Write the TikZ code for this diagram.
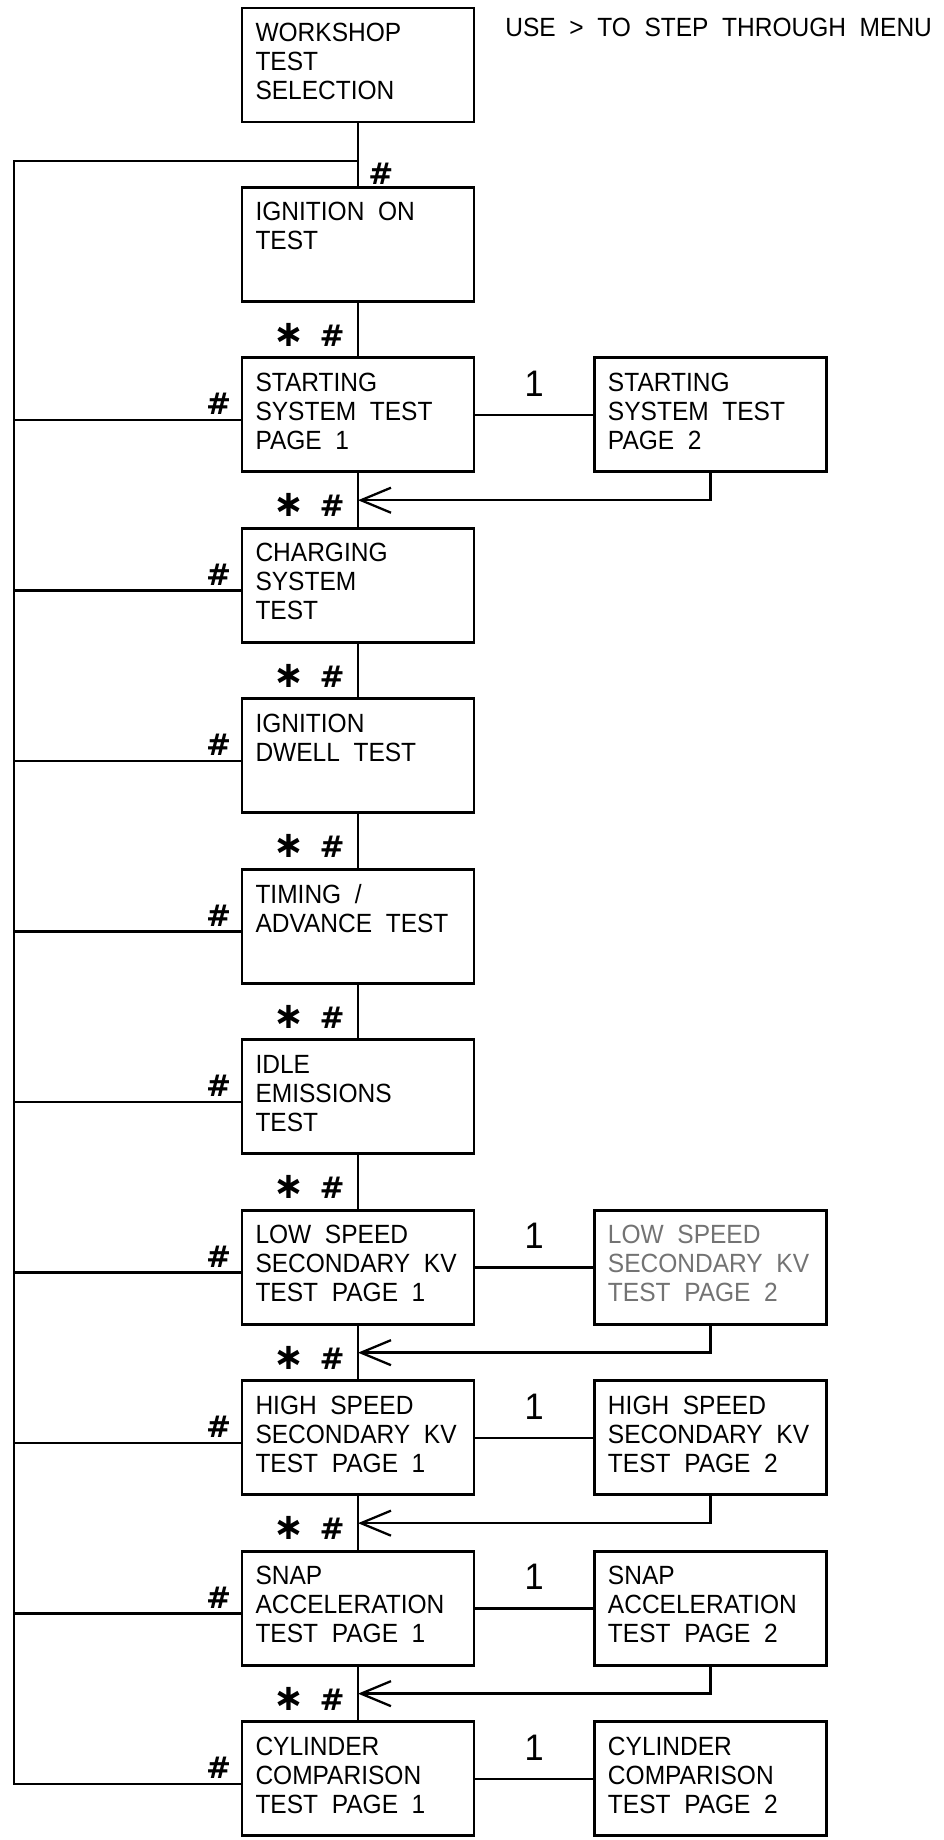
\documentclass[tikz,border=0pt]{standalone}
\usepackage{fontspec}
\setmainfont{Liberation Sans}[FakeStretch=0.93, WordSpace=2.0]
\newfontfamily\markfont{DejaVu Sans}
\usetikzlibrary{arrows.meta, positioning, calc}

\newcommand{\menutext}[1]{\parbox[t][1.88cm][t]{4.1cm}{\raggedright\vspace*{0.1cm}#1}}
\newcommand{\starkey}{{\fontsize{21}{21}\selectfont ∗}}

\begin{document}
\begin{tikzpicture}[
    node distance=1.07cm and 2.35cm,
    testbox/.style={draw, line width=1.7pt, inner xsep=0.27cm, inner ysep=0.2cm, font=\fontsize{15}{16.5}\selectfont},
    link/.style={line width=1.4pt},
    back/.style={line width=1.4pt, -{Straight Barb[length=0.6cm, width=0.5cm, line width=1.3pt]}},
    hashmark/.style={font=\markfont\bfseries\fontsize{17}{17}\selectfont, inner sep=0pt},
    pagekey/.style={font=\fontsize{21}{21}\selectfont, inner sep=0pt}
]
\useasboundingbox (0,0) rectangle (18.88,-36.8);

\node[anchor=north west, inner sep=0pt, font=\fontsize{15}{16.5}\selectfont] (hint) at (10.1,-0.36) {USE > TO STEP THROUGH MENU};

\node[testbox] (workshop) at (7.16,-1.3) {\menutext{WORKSHOP\\TEST\\SELECTION}};
\node[testbox, below=1.25cm of workshop] (ignon) {\menutext{IGNITION ON\\TEST}};
\node[testbox, below=of ignon] (start1) {\menutext{STARTING\\SYSTEM TEST\\PAGE 1}};
\node[testbox, right=of start1] (start2) {\menutext{STARTING\\SYSTEM TEST\\PAGE 2}};
\node[testbox, below=of start1] (charging) {\menutext{CHARGING\\SYSTEM\\TEST}};
\node[testbox, below=of charging] (dwell) {\menutext{IGNITION\\DWELL TEST}};
\node[testbox, below=of dwell] (timing) {\menutext{TIMING /\\ADVANCE TEST}};
\node[testbox, below=of timing] (idle) {\menutext{IDLE\\EMISSIONS\\TEST}};
\node[testbox, below=of idle] (lowkv1) {\menutext{LOW SPEED\\SECONDARY KV\\TEST PAGE 1}};
\node[testbox, right=of lowkv1, text=black!55] (lowkv2) {\menutext{LOW SPEED\\SECONDARY KV\\TEST PAGE 2}};
\node[testbox, below=of lowkv1] (highkv1) {\menutext{HIGH SPEED\\SECONDARY KV\\TEST PAGE 1}};
\node[testbox, right=of highkv1] (highkv2) {\menutext{HIGH SPEED\\SECONDARY KV\\TEST PAGE 2}};
\node[testbox, below=of highkv1] (snap1) {\menutext{SNAP\\ACCELERATION\\TEST PAGE 1}};
\node[testbox, right=of snap1] (snap2) {\menutext{SNAP\\ACCELERATION\\TEST PAGE 2}};
\node[testbox, below=of snap1] (cyl1) {\menutext{CYLINDER\\COMPARISON\\TEST PAGE 1}};
\node[testbox, right=of cyl1] (cyl2) {\menutext{CYLINDER\\COMPARISON\\TEST PAGE 2}};

\coordinate (entry) at ($(workshop.south)!0.6!(ignon.north)$);
\coordinate (bus) at (0.28,0);
\draw[link] (workshop) -- (ignon);
\node[hashmark, anchor=west] at ($(entry)!0.5!(ignon.north)+(0.2,0)$) {\#};

\foreach \upper/\lower in {ignon/start1, start1/charging, charging/dwell, dwell/timing, timing/idle, idle/lowkv1, lowkv1/highkv1, highkv1/snap1, snap1/cyl1}
{
  \draw[link] (\upper) -- (\lower);
  \node[hashmark, anchor=south east] at ($(\lower.north)+(-0.26,0.2)$) {\starkey\hspace{0.3cm}\#};
}

\foreach \menu in {start1, charging, dwell, timing, idle, lowkv1, highkv1, snap1, cyl1}
{
  \coordinate (\menu-in) at ($(\menu.west)+(0,-0.1)$);
  \draw[link] (\menu-in -| bus) -- (\menu-in);
  \node[hashmark, anchor=south east] at ($(\menu-in)+(-0.18,0.1)$) {\#};
}
\draw[link] (entry) -- (entry -| bus) -- (cyl1-in -| bus) -- (cyl1-in);

\foreach \first/\second in {start1/start2, lowkv1/lowkv2, highkv1/highkv2, snap1/snap2, cyl1/cyl2}
{
  \draw[link] (\first) -- (\second) node[pagekey, midway, above=0.35cm] {1};
}

\foreach \page/\menu/\next in {start2/start1/charging, lowkv2/lowkv1/highkv1, highkv2/highkv1/snap1, snap2/snap1/cyl1}
{
  \coordinate (\menu-back) at ($(\menu.south)!0.5!(\next.north)$);
  \draw[back] (\page.south) |- (\menu-back);
}
\end{tikzpicture}
\end{document}
